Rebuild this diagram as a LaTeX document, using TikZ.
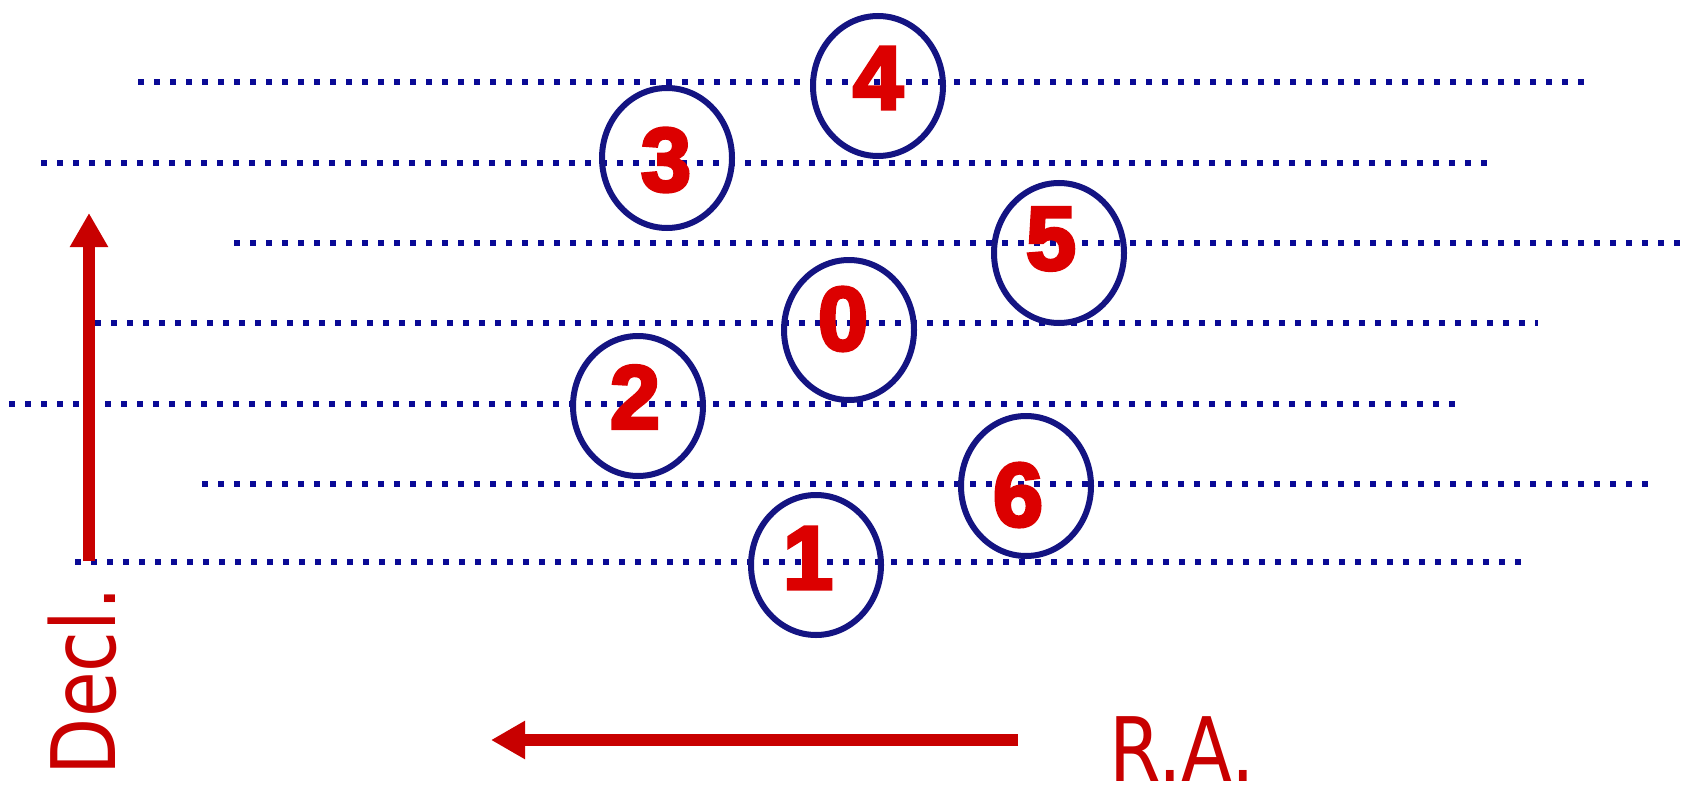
\documentclass[tikz,border=0pt]{standalone}
\usepackage{fontspec}
\setmainfont{DejaVu Sans}
\newfontfamily\digitfont{Liberation Sans}
\newfontfamily\lblfont{DejaVu Sans}[FakeStretch=0.835]
\usetikzlibrary{arrows.meta,shapes.geometric}
\definecolor{dotblue}{RGB}{10,10,150}
\definecolor{ringblue}{RGB}{20,20,130}
\definecolor{numred}{RGB}{220,0,0}
\definecolor{arrred}{RGB}{200,0,0}
\newcommand{\heavydigit}[1]{\special{pdf:literal 2 Tr 3.5 w 0.863 0 0 RG}#1\special{pdf:literal 0 Tr}}
\begin{document}
\begin{tikzpicture}[x=1pt,y=-1pt,
  dotline/.style={draw=dotblue,line width=6pt,dash pattern=on 6pt off 10pt},
  ring/.style={ellipse,draw=ringblue,line width=6pt,minimum width=130pt,minimum height=140pt,inner sep=0pt},
  num/.style={text=numred,font=\digitfont\bfseries\fontsize{90}{90}\selectfont,inner sep=0pt},
  axis/.style={draw=arrred,line width=12pt,-{Triangle[width=36pt,length=34pt]}},
  lbl/.style={text=arrred,inner sep=0pt,font=\lblfont\fontsize{89}{89}\selectfont}]
\useasboundingbox (0,0) rectangle (1686,789);
\fill[white] (0,0) rectangle (1686,789);
% dotted declination strips
\draw[dotline] (138,82) -- (1589,82);
\draw[dotline] (41,163) -- (1493,163);
\draw[dotline] (234,243) -- (1683,243);
\draw[dotline] (95,323) -- (1538,323);
\draw[dotline] (9,404) -- (1460,404);
\draw[dotline] (202,484) -- (1651,484);
\draw[dotline] (75,562) -- (1522,562);
% rings
\node[ring] (r4) at (878,86) {};
\node[ring] (r3) at (667,158) {};
\node[ring] (r5) at (1059,253) {};
\node[ring] (r0) at (849,330) {};
\node[ring] (r2) at (638,406) {};
\node[ring] (r6) at (1026,486) {};
\node[ring] (r1) at (816,565) {};
% numbers
\node[num] (n4) at (878,78) {\heavydigit{4}};
\node[num] (n3) at (666,160) {\heavydigit{3}};
\node[num] (n5) at (1051,239) {\heavydigit{5}};
\node[num] (n0) at (843,319) {\heavydigit{0}};
\node[num] (n2) at (635,397) {\heavydigit{2}};
\node[num] (n6) at (1018,495) {\heavydigit{6}};
\node[num] (n1) at (808,558) {\heavydigit{1}};
% axes
\coordinate (dtail) at (89,561);
\coordinate (dtip) at (89,213);
\draw[axis] (dtail) -- (dtip);
\coordinate (rtail) at (1018,740);
\coordinate (rtip) at (491,740);
\draw[axis] (rtail) -- (rtip);
\node[lbl,rotate=90] (decl) at (82,681) {Decl.};
\node[lbl] (ra) at (1182,749) {R.A.};
\end{tikzpicture}
\end{document}
